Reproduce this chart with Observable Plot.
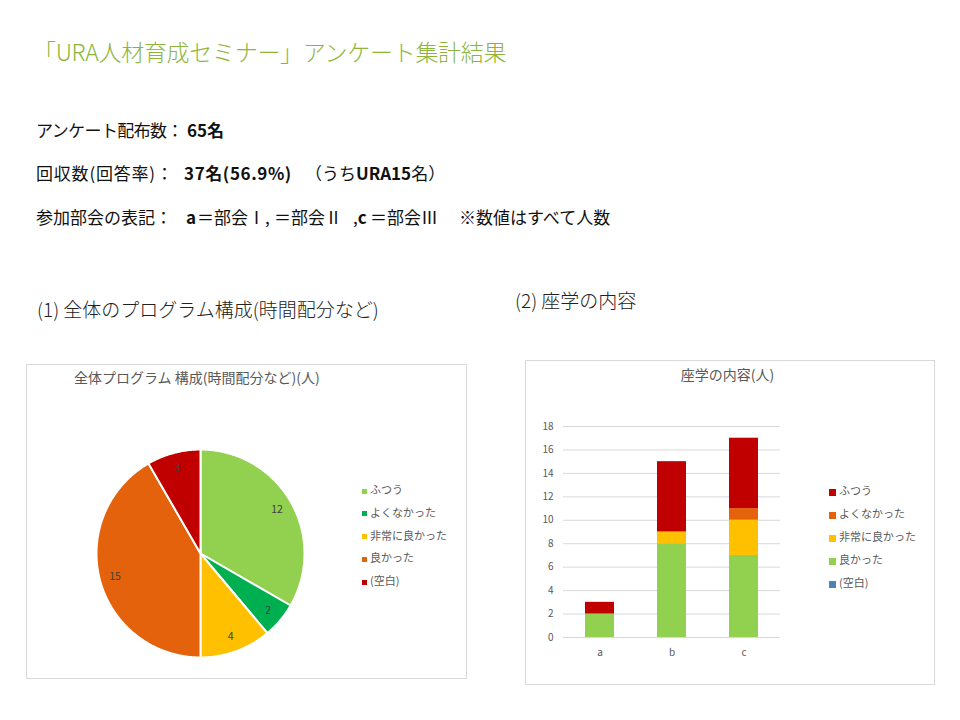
<!DOCTYPE html>
<html><head><meta charset="utf-8">
<script src="https://cdn.jsdelivr.net/npm/d3@7"></script>
<script src="https://cdn.jsdelivr.net/npm/@observablehq/plot@0.6"></script>
<style>
body{margin:0;background:#fff;font-family:"Noto Sans CJK JP","Noto Sans",sans-serif;}
#page{position:relative;width:960px;height:720px;overflow:hidden;background:#fff;}
.abs{position:absolute;white-space:nowrap;line-height:1;}
.t{font-size:17px;color:#111;}
.box{position:absolute;border:1px solid #D9D9D9;box-sizing:border-box;}
.leg{position:absolute;font-size:11px;color:#595959;line-height:1;white-space:nowrap;}
.leg span.sw{display:inline-block;vertical-align:middle;margin-right:3px;}
b{font-weight:700;}
</style></head><body>
<div id="page">
  <div class="abs" style="left:33px;top:40px;font-size:23px;color:#8DB53A;letter-spacing:-0.3px;font-weight:300;">「URA人材育成セミナー」アンケート集計結果</div>

  <div class="abs t" style="left:36px;top:121px;letter-spacing:-0.6px;">アンケート配布数：</div>
  <div class="abs t" style="left:187px;top:121px;"><b>65名</b></div>

  <div class="abs t" style="left:36px;top:164px;letter-spacing:0.8px;">回収数(回答率)：</div>
  <div class="abs t" style="left:184px;top:164px;letter-spacing:0.6px;"><b>37名(56.9%)</b></div>
  <div class="abs t" style="left:305px;top:164px;">（うち<b>URA15</b>名）</div>

  <div class="abs t" style="left:36px;top:208px;">参加部会の表記：</div>
  <div class="abs t" style="left:186px;top:208px;"><b>a</b></div>
  <div class="abs t" style="left:197px;top:208px;">＝部会Ⅰ</div>
  <div class="abs t" style="left:265px;top:208px;">,</div>
  <div class="abs t" style="left:274px;top:208px;">＝部会Ⅱ</div>
  <div class="abs t" style="left:353px;top:208px;">,<b>c</b></div>
  <div class="abs t" style="left:370px;top:208px;">＝部会Ⅲ</div>
  <div class="abs t" style="left:459px;top:208px;">※数値はすべて人数</div>

  <div class="abs" style="left:37px;top:299px;font-size:19px;color:#222;font-weight:300;">(1) 全体のプログラム構成(時間配分など)</div>
  <div class="abs" style="left:515px;top:290px;font-size:19px;color:#222;font-weight:300;">(2) 座学の内容</div>

  <div class="box" style="left:26px;top:364px;width:441px;height:315px;"></div>
  <div class="abs" style="left:74px;top:370px;font-size:14px;color:#595959;">全体プログラム 構成(時間配分など)(人)</div>
  <div id="pie" style="position:absolute;left:93px;top:446px;"></div>
  <div id="pieLegend"></div>

  <div class="box" style="left:525px;top:360px;width:410px;height:325px;"></div>
  <div class="abs" style="left:525px;width:405px;text-align:center;top:367px;font-size:14px;color:#595959;">座学の内容(人)</div>
  <div id="bar" style="position:absolute;left:525px;top:410px;"></div>
  <div id="barLegend"></div>
</div>
<script>
// ---- Pie data: 全体プログラム構成(時間配分など)
const pieCategories = ["ふつう", "よくなかった", "非常に良かった", "良かった", "(空白)"];
const pieValues = [12, 2, 4, 15, 3];
const pieColors = ["#92D050", "#00B050", "#FFC000", "#E4620C", "#C00000"];

// ---- Bar data: 座学の内容
const barCategories = ["a", "b", "c"];
const barSeries = ["良かった", "非常に良かった", "よくなかった", "ふつう", "(空白)"];
const valYokatta = [2, 8, 7];
const valHijouni = [0, 1, 3];
const valYokunakatta = [0, 0, 1];
const valFutsuu = [1, 6, 6];
const valKuhaku = [0, 0, 0];
const barColors = ["#92D050", "#FFC000", "#E4620C", "#C00000", "#4F81BD"];
const barLegendOrder = ["ふつう", "よくなかった", "非常に良かった", "良かった", "(空白)"];
const yTicks = [0, 2, 4, 6, 8, 10, 12, 14, 16, 18];

const fontFam = '"Noto Sans CJK JP","Noto Sans",sans-serif';

// ---- Pie via Plot.geo with identity projection
const arcs = d3.pie().sort(null)(pieValues);
const features = arcs.map((a, i) => {
  const pts = [[0, 0]];
  const n = Math.max(2, Math.ceil((a.endAngle - a.startAngle) / 0.01));
  for (let k = 0; k <= n; k++) {
    const t = a.startAngle + (a.endAngle - a.startAngle) * k / n;
    pts.push([Math.sin(t), -Math.cos(t)]);
  }
  pts.push([0, 0]);
  return {type: "Feature", properties: {name: pieCategories[i]}, geometry: {type: "Polygon", coordinates: [pts]}};
});
const labelPts = arcs.map((a, i) => {
  const m = (a.startAngle + a.endAngle) / 2;
  return {x: 0.85 * Math.sin(m), y: -0.85 * Math.cos(m), text: String(pieValues[i])};
});
const pie = Plot.plot({
  width: 214, height: 214, margin: 3,
  style: {fontFamily: fontFam, background: "transparent"},
  projection: {type: "identity", domain: {type: "MultiPoint", coordinates: [[-1, -1], [1, 1]]}},
  color: {domain: pieCategories, range: pieColors},
  marks: [
    Plot.geo(features, {fill: d => d.properties.name, stroke: "white", strokeWidth: 2}),
    Plot.text(labelPts, {x: "x", y: "y", text: "text", fill: "#404040", fontSize: 10.5})
  ]
});
document.getElementById("pie").appendChild(pie);

// Pie legend
const pl = document.getElementById("pieLegend");
pieCategories.forEach((c, i) => {
  const d = document.createElement("div");
  d.className = "leg";
  d.style.left = "362px";
  d.style.top = (484 + i * 22.8) + "px";
  d.innerHTML = `<span class="sw" style="width:5px;height:5px;background:${pieColors[i]}"></span>${c}`;
  pl.appendChild(d);
});

// ---- Stacked bar chart
const seriesValues = [valYokatta, valHijouni, valYokunakatta, valFutsuu, valKuhaku];
const barData = barSeries.flatMap((s, si) => barCategories.map((c, ci) => ({cat: c, series: s, value: seriesValues[si][ci]})));
const bar = Plot.plot({
  width: 270, height: 260,
  marginLeft: 38, marginRight: 15, marginTop: 16, marginBottom: 33,
  style: {fontFamily: fontFam, fontSize: "10px", color: "#595959", background: "transparent"},
  x: {domain: barCategories, paddingInner: 0.6, paddingOuter: 0.3, label: null},
  y: {domain: [0, 18], label: null},
  color: {domain: barSeries, range: barColors},
  marks: [
    Plot.gridY(yTicks, {stroke: "#D9D9D9", strokeOpacity: 1}),
    Plot.barY(barData, {x: "cat", y: "value", fill: "series", order: barSeries}),
    Plot.axisY(yTicks, {tickSize: 0, tickPadding: 10, label: null}),
    Plot.axisX({tickSize: 0, tickPadding: 11, label: null})
  ]
});
document.getElementById("bar").appendChild(bar);

// Bar legend
const bl = document.getElementById("barLegend");
barLegendOrder.forEach((c, i) => {
  const d = document.createElement("div");
  d.className = "leg";
  d.style.left = "829px";
  d.style.top = (485 + i * 23) + "px";
  d.innerHTML = `<span class="sw" style="width:7px;height:7px;background:${barColors[barSeries.indexOf(c)]}"></span>${c}`;
  bl.appendChild(d);
});
</script>
</body></html>
